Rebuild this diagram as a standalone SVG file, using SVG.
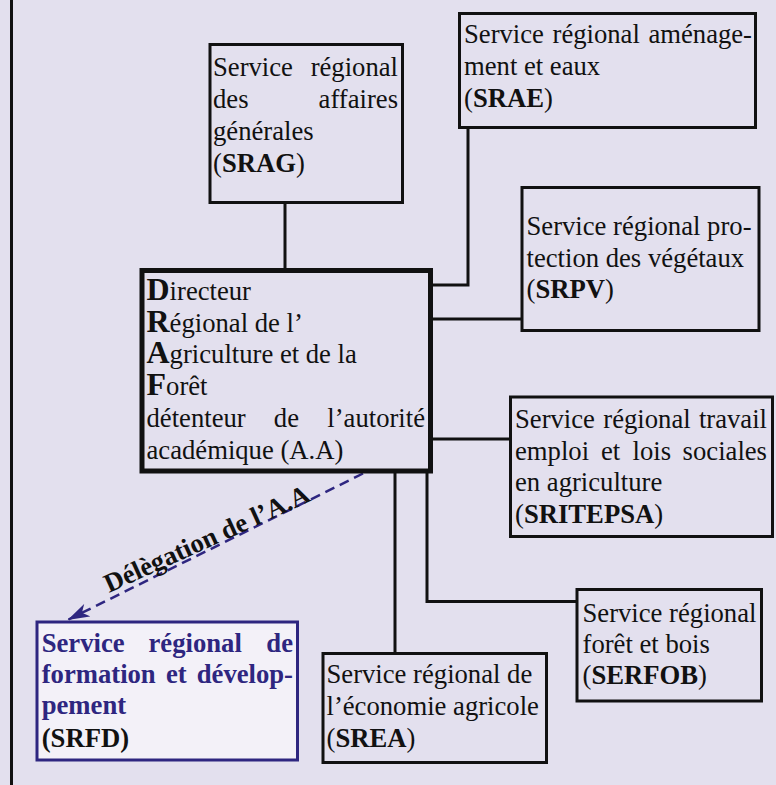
<svg xmlns="http://www.w3.org/2000/svg" width="776" height="785" viewBox="0 0 776 785">
<style>
text{font-family:"Liberation Serif","Times New Roman",serif;font-size:26.67px;fill:#111}
.b{font-weight:bold}
.ini{font-weight:bold;font-size:32px}
.box{fill:#E3E0EE;stroke:#111;stroke-width:3}
.main{fill:#E3E0EE;stroke:#111;stroke-width:5}
.conn{fill:none;stroke:#111;stroke-width:3}
.blue{fill:#2E2680}
</style>
<defs>
<marker id="arr" viewBox="0 0 22 14" refX="21" refY="7" markerWidth="22" markerHeight="14" markerUnits="userSpaceOnUse" orient="auto">
<path d="M0,0 L22,7 L0,14 L6,7 Z" fill="#2E2680"/>
</marker>
</defs>
<rect width="776" height="785" fill="#E3E0EE"/>
<line x1="11.5" y1="0" x2="11.5" y2="785" stroke="#111" stroke-width="3"/>
<g id="connectors">
<line class="conn" x1="285" y1="203" x2="285" y2="269"/>
<polyline class="conn" points="468,128 468,285 432,285"/>
<line class="conn" x1="432" y1="319" x2="522" y2="319"/>
<line class="conn" x1="432" y1="439" x2="510" y2="439"/>
<line class="conn" x1="395" y1="473" x2="395" y2="654"/>
<polyline class="conn" points="427,473 427,601.5 577,601.5"/>
<line x1="363" y1="473.5" x2="68.5" y2="619.5" stroke="#2E2680" stroke-width="2.5" stroke-dasharray="10,6" marker-end="url(#arr)"/>
<text class="b" transform="translate(109,593) rotate(-24.5)">Délègation de l’A.A</text>
</g>
<g id="srag">
<rect class="box" x="210" y="44.5" width="192.5" height="158"/>
<text y="75.5"><tspan x="213">Service</tspan><tspan x="398" text-anchor="end">régional</tspan></text>
<text y="107.5"><tspan x="213">des</tspan><tspan x="398" text-anchor="end">affaires</tspan></text>
<text x="213" y="139.5">générales</text>
<text x="213" y="171.5">(<tspan class="b">SRAG</tspan>)</text>
</g>
<g id="srae">
<rect class="box" x="459.5" y="13.5" width="296" height="114"/>
<text y="43"><tspan x="464">Service</tspan><tspan x="552.5">régional</tspan><tspan x="752" text-anchor="end">aménage-</tspan></text>
<text x="464" y="75">ment et eaux</text>
<text x="464" y="107">(<tspan class="b">SRAE</tspan>)</text>
</g>
<g id="srpv">
<rect class="box" x="522" y="187.5" width="237" height="143"/>
<text x="526.5" y="235">Service régional pro-</text>
<text x="526.5" y="266.5">tection des végétaux</text>
<text x="526.5" y="298">(<tspan class="b">SRPV</tspan>)</text>
</g>
<g id="directeur">
<rect class="main" x="142" y="270.5" width="288.5" height="200.5"/>
<text x="146.5" y="300"><tspan class="ini">D</tspan>irecteur</text>
<text x="146.5" y="331.7"><tspan class="ini">R</tspan>égional de l’</text>
<text x="146.5" y="363.3"><tspan class="ini">A</tspan>griculture et de la</text>
<text x="146.5" y="395"><tspan class="ini">F</tspan>orêt</text>
<text y="426.7"><tspan x="146.5">détenteur</tspan><tspan x="273.8">de</tspan><tspan x="425" text-anchor="end">l’autorité</tspan></text>
<text x="146.5" y="459">académique (A.A)</text>
</g>
<g id="sritepsa">
<rect class="box" x="510.5" y="397" width="262" height="139.5"/>
<text y="428"><tspan x="515">Service</tspan><tspan x="603.3">régional</tspan><tspan x="767" text-anchor="end">travail</tspan></text>
<text y="459.5"><tspan x="515">emploi</tspan><tspan x="601">et</tspan><tspan x="632.5">lois</tspan><tspan x="767" text-anchor="end">sociales</tspan></text>
<text x="515" y="491">en agriculture</text>
<text x="515" y="522.5">(<tspan class="b">SRITEPSA</tspan>)</text>
</g>
<g id="serfob">
<rect class="box" x="577" y="589.5" width="184.5" height="111.5"/>
<text x="582.5" y="621.5">Service régional</text>
<text x="582.5" y="652.5">forêt et bois</text>
<text x="582.5" y="683.5">(<tspan class="b">SERFOB</tspan>)</text>
</g>
<g id="srea">
<rect class="box" x="323" y="653.5" width="223.5" height="109"/>
<text x="326.5" y="683.3">Service régional de</text>
<text x="326.5" y="715">l’économie agricole</text>
<text x="326.5" y="746.7">(<tspan class="b">SREA</tspan>)</text>
</g>
<g id="srfd">
<rect x="37" y="622" width="260.5" height="138" fill="#F3F1F8" stroke="#2E2680" stroke-width="3"/>
<text class="b blue" y="651.7"><tspan x="41.7">Service</tspan><tspan x="148.5">régional</tspan><tspan x="293" text-anchor="end">de</tspan></text>
<text class="b blue" y="682.7"><tspan x="41.7">formation</tspan><tspan x="166">et</tspan><tspan x="293" text-anchor="end">dévelop-</tspan></text>
<text class="b blue" x="41.7" y="714.3">pement</text>
<text class="b" x="41.7" y="746.7">(SRFD)</text>
</g>
</svg>
